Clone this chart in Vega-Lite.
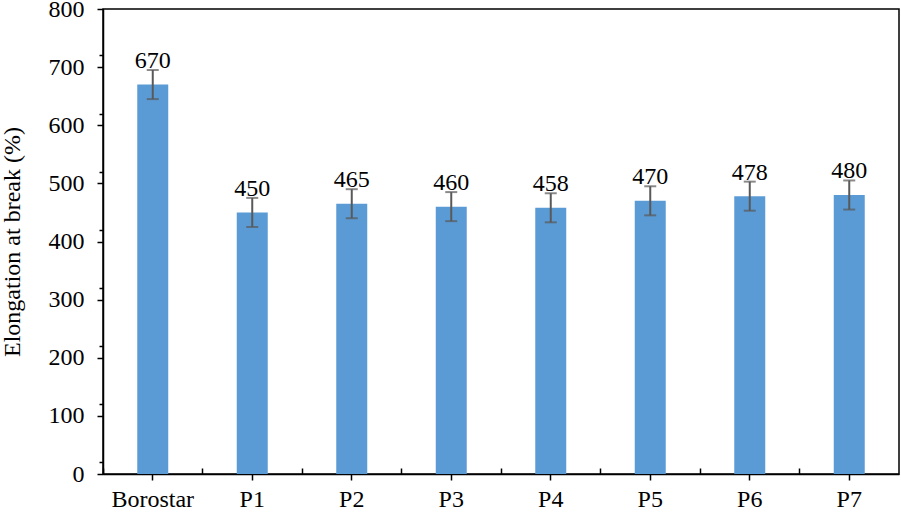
{
  "$schema": "https://vega.github.io/schema/vega-lite/v6.json",
  "width": 796,
  "height": 465,
  "autosize": "none",
  "padding": {"left": 103, "top": 9, "right": 2, "bottom": 40},
  "config": {
    "view": {"stroke": "#000000", "strokeWidth": 1.5},
    "font": "Liberation Serif",
    "axis": {"labelFont": "Liberation Serif", "titleFont": "Liberation Serif", "labelColor": "#000", "titleColor": "#000", "domainColor": "#000", "tickColor": "#000", "domainWidth": 1.5, "tickWidth": 1.5, "labelOverlap": false, "grid": false}
  },
  "data": {"values": [
    {"sample": "Borostar", "value": 670, "err": 25},
    {"sample": "P1", "value": 450, "err": 25},
    {"sample": "P2", "value": 465, "err": 25},
    {"sample": "P3", "value": 460, "err": 25},
    {"sample": "P4", "value": 458, "err": 25},
    {"sample": "P5", "value": 470, "err": 25},
    {"sample": "P6", "value": 478, "err": 25},
    {"sample": "P7", "value": 480, "err": 25}
  ]},
  "resolve": {"axis": {"x": "independent", "y": "independent"}},
  "layer": [
    {
      "mark": {"type": "bar", "color": "#5B9BD5", "size": 31},
      "encoding": {
        "x": {"field": "sample", "type": "nominal", "sort": null,
          "scale": {"paddingInner": 0, "paddingOuter": 0},
          "axis": {"orient": "bottom", "title": null, "labelAngle": 0, "labelFontSize": 24, "tickSize": 6, "labelPadding": 7}},
        "y": {"field": "value", "type": "quantitative",
          "scale": {"domain": [0, 800], "nice": false},
          "axis": {"orient": "left", "title": "Elongation at break (%)", "titleFontSize": 24, "titleFontWeight": "normal", "titlePadding": 24,
            "values": [0,100,200,300,400,500,600,700,800],
            "labelFontSize": 24, "tickSize": 6, "labelPadding": 13}}
      }
    },
    {
      "transform": [
        {"calculate": "datum.value - datum.err", "as": "lo"},
        {"calculate": "datum.value + datum.err", "as": "hi"}
      ],
      "encoding": {
        "x": {"field": "sample", "type": "nominal", "sort": null,
          "axis": {"orient": "bottom", "title": null, "labels": false, "domain": false, "bandPosition": 0, "tickSize": -6, "tickWidth": 1.5}}
      },
      "layer": [
        {
          "mark": {"type": "rule", "color": "#595959", "strokeWidth": 2},
          "encoding": {
            "y": {"field": "lo", "type": "quantitative",
              "axis": {"orient": "left", "title": null, "labels": false, "domain": false, "tickSize": 4, "values": [20,40,60,80,120,140,160,180,220,240,260,280,320,340,360,380,420,440,460,480,520,540,560,580,620,640,660,680,720,740,760,780]}},
            "y2": {"field": "hi"}}
        },
        {
          "mark": {"type": "tick", "color": "#595959", "thickness": 2, "size": 12, "orient": "horizontal"},
          "encoding": {"y": {"field": "lo", "type": "quantitative"}}
        },
        {
          "mark": {"type": "tick", "color": "#595959", "thickness": 2, "size": 12, "orient": "horizontal"},
          "encoding": {"y": {"field": "hi", "type": "quantitative"}}
        },
        {
          "mark": {"type": "text", "fontSize": 24, "font": "Liberation Serif", "baseline": "alphabetic", "dy": -2, "color": "#000"},
          "encoding": {"y": {"field": "hi", "type": "quantitative"}, "text": {"field": "value", "type": "quantitative"}}
        }
      ]
    }
  ]
}
